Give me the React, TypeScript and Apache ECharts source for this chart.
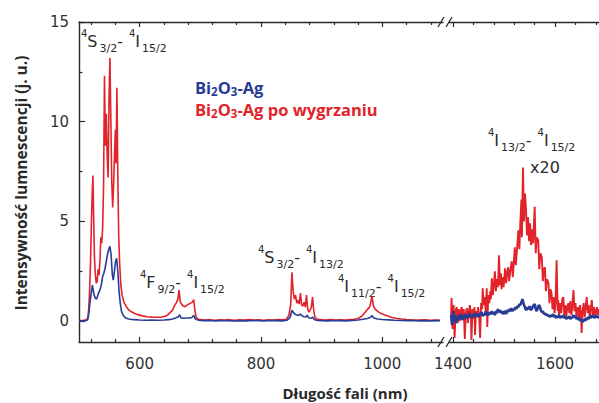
import React, { useEffect, useRef } from 'react';
import * as echarts from 'echarts';

// ---------------- data ----------------
const X_VIS_MAJOR = [600, 800, 1000];
const X_VIS_MINOR = [520, 560, 640, 680, 720, 760, 840, 880, 920, 960, 1040, 1080];
const X_IR_MAJOR = [1400, 1600];
const X_IR_MINOR = [1440, 1480, 1520, 1560, 1640, 1680, 1720];
const Y_MAJOR = [0, 5, 10, 15];
const Y_MINOR = [2.5, 7.5, 12.5];

const SERIES_NAMES = ['Bi2O3-Ag', 'Bi2O3-Ag po wygrzaniu'];

// red: annealed sample, visible part [nm, intensity]
const RED_VIS: number[][] = [
  [500, 0.03], [504, 0.02], [508, 0.04], [512, 0.06], [514.5, 0.15], [516, 0.6], [517.5, 1.5], [519, 3.0],
  [520.5, 5.0], [522, 6.6], [523, 7.3], [524, 5.4], [525.5, 3.2], [527, 2.3], [528.5, 1.9], [530, 2.0],
  [531.5, 2.6], [533, 2.3], [534.5, 3.0], [536, 4.2], [537.5, 3.9], [539, 4.7], [540.5, 6.8], [542, 12.3],
  [543.5, 8.8], [545, 10.4], [546.5, 8.2], [548, 7.2], [549.5, 11.2], [551, 13.2], [552.5, 10.1], [554, 7.0],
  [555.5, 5.7], [557, 6.8], [558.5, 8.3], [560, 9.6], [561, 7.9], [562.5, 11.7], [564, 7.2], [565.5, 4.2],
  [567, 2.9], [569, 1.8], [571, 1.3], [574, 0.95], [578, 0.72], [582, 0.56], [587, 0.45], [592, 0.38],
  [598, 0.31], [605, 0.26], [612, 0.22], [620, 0.2], [628, 0.19], [636, 0.2], [642, 0.24], [646, 0.3],
  [650, 0.42], [654, 0.55], [658, 0.8], [661, 0.95], [663, 1.1], [665, 1.55], [667, 0.95], [669, 0.85],
  [672, 0.75], [675, 0.72], [678, 0.8], [681, 0.85], [684, 0.9], [687, 0.95], [689, 1.08], [691, 0.55],
  [693, 0.2], [696, 0.1], [700, 0.07], [708, 0.05], [716, 0.07], [724, 0.04], [732, 0.06], [740, 0.05],
  [748, 0.07], [756, 0.04], [764, 0.06], [772, 0.05], [780, 0.07], [788, 0.05], [796, 0.06], [804, 0.04],
  [812, 0.06], [820, 0.05], [828, 0.07], [836, 0.06], [842, 0.09], [846, 0.3], [849, 0.85], [851, 2.45],
  [853, 1.5], [855, 1.1], [857, 1.3], [859, 0.9], [861, 1.05], [863, 0.85], [865, 1.4], [867, 0.8],
  [869, 0.75], [871, 0.95], [873, 0.7], [875, 1.3], [877, 0.6], [879, 0.45], [881, 0.55], [883, 0.7],
  [885, 1.2], [887, 0.5], [889, 0.2], [892, 0.1], [898, 0.07], [906, 0.05], [914, 0.07], [922, 0.05],
  [930, 0.06], [938, 0.05], [946, 0.07], [952, 0.08], [958, 0.12], [963, 0.18], [968, 0.3], [972, 0.45],
  [976, 0.6], [979, 0.7], [981, 0.95], [983, 1.25], [985, 0.8], [987, 0.65], [990, 0.55], [994, 0.45],
  [998, 0.38], [1003, 0.32], [1009, 0.25], [1016, 0.18], [1024, 0.13], [1032, 0.1], [1040, 0.08], [1050, 0.06],
  [1060, 0.05], [1070, 0.06], [1080, 0.04], [1088, 0.05], [1095, 0.04],
];

// blue: as-prepared sample, visible part
const BLUE_VIS: number[][] = [
  [500, 0.0], [504, 0.01], [508, 0.0], [512, 0.03], [514.5, 0.08], [516, 0.35], [518, 0.9], [520, 1.35],
  [522, 1.8], [523.5, 1.55], [525, 1.3], [527, 1.15], [529, 1.1], [531, 1.3], [533, 1.45], [535, 1.6],
  [537, 1.85], [539, 2.25], [541, 2.4], [543, 2.65], [545, 3.0], [547, 3.35], [549, 3.6], [551, 3.75],
  [553, 3.3], [555, 2.3], [556.5, 2.05], [558, 2.4], [560, 2.95], [562, 3.15], [564, 2.5], [566, 1.5],
  [568, 0.9], [570, 0.5], [573, 0.28], [577, 0.15], [582, 0.1], [590, 0.07], [600, 0.05], [610, 0.04],
  [620, 0.05], [630, 0.04], [640, 0.05], [648, 0.07], [656, 0.12], [661, 0.18], [664, 0.22], [666, 0.32],
  [668, 0.17], [672, 0.14], [677, 0.15], [682, 0.16], [686, 0.18], [689, 0.28], [692, 0.1], [697, 0.04],
  [705, 0.02], [715, 0.03], [725, 0.01], [735, 0.03], [745, 0.02], [755, 0.0], [765, 0.02], [775, 0.01],
  [785, 0.03], [795, 0.02], [805, 0.01], [815, 0.03], [825, 0.02], [835, 0.01], [843, 0.04], [847, 0.15],
  [849, 0.3], [851, 0.55], [853, 0.45], [856, 0.35], [859, 0.3], [862, 0.28], [865, 0.35], [868, 0.25],
  [871, 0.22], [874, 0.2], [876, 0.3], [879, 0.15], [883, 0.14], [885, 0.2], [888, 0.08], [893, 0.03],
  [900, 0.02], [910, 0.01], [920, 0.03], [930, 0.02], [940, 0.01], [950, 0.03], [960, 0.05], [968, 0.09],
  [975, 0.13], [980, 0.18], [983, 0.27], [986, 0.15], [992, 0.1], [1000, 0.08], [1010, 0.06], [1020, 0.04],
  [1030, 0.03], [1040, 0.02], [1050, 0.03], [1060, 0.01], [1070, 0.02], [1080, 0.01], [1095, 0.02],
];

// red: annealed sample, IR part (x20)
const RED_IR: number[][] = [
  [1396, 0.1], [1397, 1.15], [1399, -0.4], [1401, 0.8], [1403, -0.85], [1405, 0.5], [1407, 0.7], [1409, -0.1],
  [1411, 0.6], [1413, 0.0], [1415, 0.5], [1417, 0.7], [1419, 0.1], [1421, 0.6], [1423, -0.9], [1425, 0.4],
  [1427, 0.65], [1429, -0.1], [1431, 0.5], [1433, 0.8], [1435, 0.2], [1436, -0.95], [1438, 0.6], [1440, 0.1],
  [1442, 0.7], [1443, -0.7], [1445, 0.5], [1447, 0.2], [1449, 0.7], [1451, 0.3], [1453, -0.85], [1455, 0.9],
  [1457, 0.6], [1458, 1.65], [1460, 0.8], [1462, 1.2], [1464, 0.5], [1466, 1.65], [1467, -0.3], [1469, 1.3],
  [1471, 0.9], [1473, 1.5], [1474, 1.1], [1476, 2.15], [1478, 1.3], [1480, 1.8], [1482, 2.5], [1484, 1.5],
  [1486, 2.1], [1488, 1.7], [1490, 3.3], [1492, 1.8], [1494, 2.4], [1495, 1.6], [1497, 2.2], [1499, 1.7],
  [1502, 2.65], [1504, 1.9], [1506, 2.4], [1508, 2.7], [1510, 2.0], [1512, 2.5], [1515, 3.0], [1517, 2.2],
  [1519, 2.9], [1521, 3.7], [1523, 2.8], [1525, 3.5], [1528, 4.55], [1530, 3.6], [1532, 5.0], [1534, 6.1],
  [1535, 4.2], [1537, 7.7], [1539, 5.0], [1541, 6.4], [1543, 5.6], [1545, 4.3], [1547, 5.2], [1549, 4.0],
  [1551, 4.9], [1553, 3.8], [1555, 4.6], [1557, 3.9], [1560, 5.73], [1562, 3.4], [1564, 4.2], [1567, 4.05],
  [1569, 2.6], [1571, 3.4], [1574, 3.2], [1576, 2.0], [1578, 2.6], [1580, 2.7], [1582, 1.5], [1584, 2.1],
  [1587, 1.9], [1589, 0.9], [1591, 1.6], [1593, 1.4], [1595, 0.6], [1597, 1.2], [1599, 0.4], [1601, 1.0],
  [1603, 3.05], [1605, 0.5], [1606, 1.05], [1608, 0.3], [1610, 0.9], [1612, 0.4], [1614, 1.1], [1616, 1.2],
  [1618, 0.3], [1620, 0.8], [1622, 0.2], [1624, 0.7], [1626, 0.9], [1628, 0.4], [1630, 1.0], [1632, 0.3],
  [1634, 0.8], [1636, 1.55], [1638, 0.5], [1640, 0.9], [1642, 0.2], [1644, 0.6], [1645, 0.7], [1647, 0.1],
  [1649, 0.8], [1651, 0.3], [1652, -0.6], [1654, 0.5], [1656, 0.9], [1658, 0.2], [1660, 0.7], [1662, 1.2],
  [1664, 0.4], [1666, 0.8], [1668, 0.2], [1670, 0.6], [1672, 1.05], [1674, 0.3], [1676, 0.7], [1678, 0.2],
  [1680, 0.5], [1682, 0.7], [1684, 0.3], [1686, 0.6], [1688, 0.4], [1690, 0.8],
];

// blue: as-prepared sample, IR part (x20)
const BLUE_IR: number[][] = [
  [1396, 0.3], [1398, -0.2], [1400, 0.5], [1402, 0.0], [1404, 0.3], [1406, -0.1], [1408, 0.25], [1410, 0.05],
  [1412, 0.3], [1414, 0.1], [1416, 0.35], [1418, 0.05], [1420, 0.25], [1422, 0.1], [1424, 0.35], [1426, 0.15],
  [1428, 0.3], [1430, 0.2], [1432, 0.4], [1434, 0.15], [1436, 0.3], [1438, 0.2], [1440, 0.35], [1442, 0.2],
  [1444, 0.4], [1446, 0.25], [1448, 0.35], [1450, 0.2], [1452, 0.4], [1454, 0.3], [1456, 0.45], [1458, 0.25],
  [1460, 0.35], [1462, 0.3], [1464, 0.5], [1466, 0.3], [1468, 0.4], [1470, 0.3], [1472, 0.45], [1474, 0.35],
  [1476, 0.5], [1478, 0.35], [1480, 0.45], [1482, 0.3], [1484, 0.5], [1486, 0.4], [1488, 0.6], [1490, 0.45],
  [1492, 0.55], [1494, 0.4], [1496, 0.5], [1498, 0.35], [1500, 0.45], [1502, 0.5], [1504, 0.35], [1506, 0.55],
  [1508, 0.45], [1510, 0.6], [1512, 0.5], [1514, 0.65], [1516, 0.5], [1518, 0.6], [1520, 0.55], [1522, 0.7],
  [1524, 0.6], [1526, 0.75], [1528, 0.7], [1530, 0.85], [1532, 0.8], [1534, 0.95], [1536, 1.1], [1538, 0.9],
  [1540, 0.75], [1542, 0.6], [1544, 0.55], [1546, 0.7], [1548, 0.6], [1550, 0.75], [1552, 0.55], [1554, 0.6],
  [1556, 0.7], [1558, 0.8], [1560, 0.85], [1562, 0.6], [1564, 0.5], [1566, 0.65], [1568, 0.8], [1570, 0.75],
  [1572, 0.55], [1574, 0.45], [1576, 0.5], [1578, 0.35], [1580, 0.4], [1582, 0.3], [1584, 0.35], [1586, 0.25],
  [1588, 0.3], [1590, 0.2], [1592, 0.3], [1594, 0.25], [1596, 0.35], [1598, 0.2], [1600, 0.3], [1602, 0.15],
  [1604, 0.25], [1606, 0.2], [1608, 0.3], [1610, 0.15], [1612, 0.25], [1614, 0.2], [1616, 0.3], [1618, 0.15],
  [1620, 0.25], [1622, 0.1], [1624, 0.2], [1626, 0.15], [1628, 0.25], [1630, 0.1], [1632, 0.2], [1634, 0.15],
  [1636, 0.3], [1638, 0.2], [1640, 0.25], [1642, 0.1], [1644, 0.2], [1646, 0.05], [1648, 0.15], [1650, 0.0],
  [1652, 0.1], [1654, -0.05], [1656, 0.1], [1658, 0.0], [1660, 0.15], [1662, 0.05], [1664, 0.2], [1666, 0.1],
  [1668, 0.25], [1670, 0.15], [1672, 0.3], [1674, 0.2], [1676, 0.25], [1678, 0.15], [1680, 0.3], [1682, 0.2],
  [1684, 0.25], [1686, 0.15], [1688, 0.2], [1690, 0.25],
];

// transition labels: [superscript, letter, subscript] pairs
const TRANSITIONS: string[][][] = [
  [['4', 'S', '3/2'], ['4', 'I', '15/2']],
  [['4', 'F', '9/2'], ['4', 'I', '15/2']],
  [['4', 'S', '3/2'], ['4', 'I', '13/2']],
  [['4', 'I', '11/2'], ['4', 'I', '15/2']],
  [['4', 'I', '13/2'], ['4', 'I', '15/2']],
];
const SCALE_NOTE = 'x20';
const X_TITLE = 'Długość fali (nm)';
const Y_TITLE = 'Intensywność lumnescencji (j. u.)';

// ---------------- styles / layout ----------------
const RED = '#e2232a';
const BLUE = '#283c95';
const AXIS = '#2a2a2a';
const TXT = '#2a2a2a';
const TICK_FONT = 'DejaVu Sans';
const TITLE_FONT = 'Open Sans';

const TRANS_POS = [
  [81, 41],
  [140, 282],
  [258, 257],
  [338, 286],
  [488, 140],
];

function transText(t: string[][]) {
  const [a, b] = t;
  return `{sup|${a[0]}}{m|${a[1]}}{sub|${a[2]}}{m|-}{sup2|${b[0]}}{m|${b[1]}}{sub|${b[2]}}`;
}

// main letters centred on the line; sup pinned to top, sub pinned to bottom
const TRANS_RICH = {
  m: { fontSize: 16, lineHeight: 26, fontFamily: TICK_FONT, fill: TXT },
  sup: { fontSize: 10, lineHeight: 9, verticalAlign: 'top', fontFamily: TICK_FONT, fill: TXT },
  sup2: { fontSize: 10, lineHeight: 9, verticalAlign: 'top', fontFamily: TICK_FONT, fill: TXT, padding: [0, 0, 0, 6] },
  sub: { fontSize: 11, lineHeight: 9, verticalAlign: 'bottom', fontFamily: TICK_FONT, fill: TXT, padding: [0, 0, 0, 2] },
};

function legendText(name: string) {
  const rest = name.slice('Bi2O3'.length);
  return `{b|Bi}{s|2}{b|O}{s|3}{b|${rest}}`;
}
function legendRich(color: string) {
  return {
    b: { fontSize: 16.5, lineHeight: 20, fontWeight: 'bold', fontFamily: TITLE_FONT, fill: color },
    s: { fontSize: 11.5, lineHeight: 10, verticalAlign: 'bottom', fontWeight: 'bold', fontFamily: TITLE_FONT, fill: color },
  };
}

const fmt = (v: number) => String(v);

function xAxis(gridIndex: number, position: string, min: number, max: number, ticks: number[], len: number, line: boolean, label: boolean) {
  return {
    type: 'value', gridIndex, position, min, max,
    axisLine: { show: line, onZero: false, lineStyle: { color: AXIS, width: 1.4 } },
    axisTick: { show: true, inside: true, length: len, customValues: ticks, lineStyle: { color: AXIS, width: 1.2 } },
    axisLabel: { show: label, customValues: ticks, formatter: fmt, margin: 14, fontFamily: TICK_FONT, fontSize: 15, color: '#333' },
    splitLine: { show: false },
  };
}
function yAxis(gridIndex: number, ticks: number[], len: number, line: boolean, label: boolean, show = true) {
  return {
    type: 'value', gridIndex, position: 'left', min: -1.05, max: 15, show,
    axisLine: { show: line, onZero: false, lineStyle: { color: AXIS, width: 1.4 } },
    axisTick: { show: true, inside: true, length: len, customValues: ticks, lineStyle: { color: AXIS, width: 1.2 } },
    axisLabel: { show: label, customValues: ticks, formatter: fmt, margin: 10, fontFamily: TICK_FONT, fontSize: 15, color: '#333' },
    splitLine: { show: false },
  };
}

function breakMarks(y: number) {
  return [441, 449].map((x) => ({
    type: 'line',
    shape: { x1: x - 3, y1: y + 5, x2: x + 3, y2: y - 5 },
    style: { stroke: AXIS, lineWidth: 1.3 },
  }));
}

export default function App() {
  const ref = useRef<HTMLDivElement>(null);
  useEffect(() => {
    const chart = echarts.init(ref.current!, null, { renderer: 'svg' });
    const option: any = {
      animation: false,
      backgroundColor: '#ffffff',
      grid: [
        { left: 79, top: 22, width: 364, height: 320, outerBoundsMode: 'none' },
        { left: 449, top: 22, width: 186, height: 320, outerBoundsMode: 'none' },
      ],
      xAxis: [
        xAxis(0, 'bottom', 500, 1100, X_VIS_MAJOR, 5, true, true),
        xAxis(1, 'bottom', 1392, 1756.7, X_IR_MAJOR, 5, true, true),
        xAxis(0, 'bottom', 500, 1100, X_VIS_MINOR, 3, false, false),
        xAxis(1, 'bottom', 1392, 1756.7, X_IR_MINOR, 3, false, false),
        xAxis(0, 'top', 500, 1100, X_VIS_MAJOR, 5, true, false),
        xAxis(1, 'top', 1392, 1756.7, X_IR_MAJOR, 5, true, false),
        xAxis(0, 'top', 500, 1100, X_VIS_MINOR, 3, false, false),
        xAxis(1, 'top', 1392, 1756.7, X_IR_MINOR, 3, false, false),
      ],
      yAxis: [
        yAxis(0, Y_MAJOR, 6, true, true),
        yAxis(0, Y_MINOR, 3.5, false, false),
        yAxis(1, Y_MAJOR, 0, false, false, false),
      ],
      series: [
        { name: SERIES_NAMES[1], type: 'line', xAxisIndex: 0, yAxisIndex: 0, data: RED_VIS, showSymbol: false, symbol: 'none', lineStyle: { color: RED, width: 1.6 }, itemStyle: { color: RED } },
        { name: SERIES_NAMES[0], type: 'line', xAxisIndex: 0, yAxisIndex: 0, data: BLUE_VIS, showSymbol: false, symbol: 'none', lineStyle: { color: BLUE, width: 1.6 }, itemStyle: { color: BLUE } },
        { name: SERIES_NAMES[1] + ' IR', type: 'line', xAxisIndex: 1, yAxisIndex: 2, data: RED_IR, showSymbol: false, symbol: 'none', lineStyle: { color: RED, width: 1.9 }, itemStyle: { color: RED } },
        { name: SERIES_NAMES[0] + ' IR', type: 'line', xAxisIndex: 1, yAxisIndex: 2, data: BLUE_IR, showSymbol: false, symbol: 'none', lineStyle: { color: BLUE, width: 2.6 }, itemStyle: { color: BLUE } },
      ],
      graphic: [
        ...TRANSITIONS.map((t, i) => ({
          type: 'text', x: TRANS_POS[i][0], y: TRANS_POS[i][1],
          style: { text: transText(t), rich: TRANS_RICH, align: 'left', verticalAlign: 'middle' },
        })),
        {
          type: 'text', x: 530, y: 167,
          style: { text: SCALE_NOTE, fontSize: 16, fontFamily: TICK_FONT, fill: TXT, align: 'left', verticalAlign: 'middle' },
        },
        {
          type: 'text', x: 195, y: 87,
          style: { text: legendText(SERIES_NAMES[0]), rich: legendRich(BLUE), align: 'left', verticalAlign: 'middle' },
        },
        {
          type: 'text', x: 195, y: 109,
          style: { text: legendText(SERIES_NAMES[1]), rich: legendRich(RED), align: 'left', verticalAlign: 'middle' },
        },
        {
          type: 'text', x: 345, y: 393,
          style: { text: X_TITLE, fontSize: 15, fontWeight: 'bold', fontFamily: TITLE_FONT, fill: TXT, align: 'center', verticalAlign: 'middle' },
        },
        {
          type: 'text', x: 21, y: 183, rotation: Math.PI / 2,
          style: { text: Y_TITLE, fontSize: 15.5, fontWeight: 'bold', fontFamily: TITLE_FONT, fill: TXT, align: 'center', verticalAlign: 'middle' },
        },
        ...breakMarks(342),
        ...breakMarks(22),
      ],
    };
    chart.setOption(option);
    return () => chart.dispose();
  }, []);
  return <div ref={ref} style={{ position: 'absolute', left: 0, top: 0, width: 599, height: 403, background: '#fff' }} />;
}
